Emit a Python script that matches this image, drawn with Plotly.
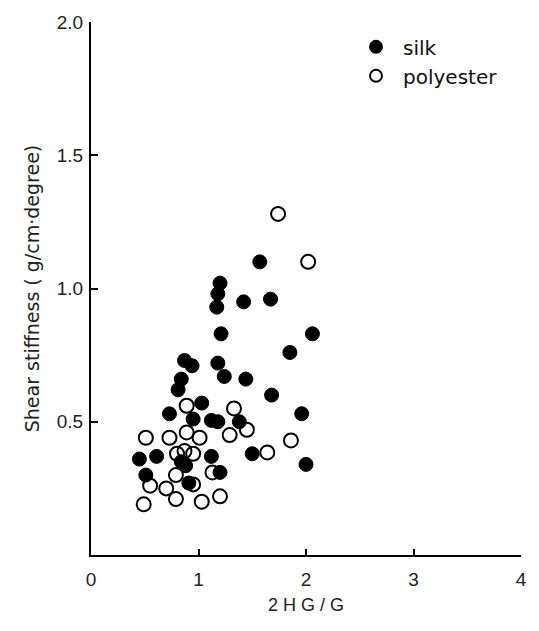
import plotly.graph_objects as go

silk_x = [1.57, 1.20, 1.18, 1.17, 1.42, 1.67, 1.21, 2.06, 1.85, 0.87, 0.94, 1.18, 1.24, 1.44,
          0.84, 0.81, 1.68, 1.03, 0.73, 0.95, 1.12, 1.18, 1.38, 1.96, 1.12, 1.50, 2.00, 0.84,
          0.88, 1.20, 0.91, 0.45, 0.61, 0.51]
silk_y = [1.10, 1.02, 0.98, 0.93, 0.95, 0.96, 0.83, 0.83, 0.76, 0.73, 0.71, 0.72, 0.67, 0.66,
          0.66, 0.62, 0.60, 0.57, 0.53, 0.51, 0.505, 0.50, 0.50, 0.53, 0.37, 0.38, 0.34, 0.35,
          0.335, 0.31, 0.27, 0.36, 0.37, 0.30]

poly_x = [1.74, 2.02, 0.89, 1.33, 0.73, 0.89, 1.01, 1.29, 1.45, 1.86, 0.80, 0.87, 0.95, 1.64,
          1.13, 0.79, 0.95, 0.70, 0.79, 1.03, 1.20, 0.51, 0.55, 0.49]
poly_y = [1.28, 1.10, 0.56, 0.55, 0.44, 0.46, 0.44, 0.45, 0.47, 0.43, 0.38, 0.39, 0.38, 0.385,
          0.31, 0.30, 0.265, 0.25, 0.21, 0.20, 0.22, 0.44, 0.26, 0.19]

x_ticks = [0, 1, 2, 3, 4]
x_tick_labels = ["0", "1", "2", "3", "4"]
y_ticks = [0.5, 1.0, 1.5, 2.0]
y_tick_labels = ["0.5", "1.0", "1.5", "2.0"]

font_family = "Liberation Sans, Arial, sans-serif"
wide_font = "DejaVu Sans, sans-serif"

fig = go.Figure()
fig.add_trace(go.Scatter(
    x=silk_x, y=silk_y, mode="markers", name="silk",
    marker=dict(symbol="circle", size=14, color="black", line=dict(color="black", width=1)),
))
fig.add_trace(go.Scatter(
    x=poly_x, y=poly_y, mode="markers", name="polyester",
    marker=dict(symbol="circle-open", size=14, color="black", line=dict(color="black", width=2)),
))

fig.update_layout(
    width=539, height=631,
    margin=dict(l=91, r=12, t=16, b=76),
    paper_bgcolor="white", plot_bgcolor="white",
    font=dict(family=font_family, size=18, color="#111"),
    showlegend=True,
    legend=dict(x=0.60, y=0.99, xanchor="left", yanchor="top",
                bgcolor="rgba(0,0,0,0)", font=dict(family=wide_font, size=20, color="#111"),
                itemsizing="constant", itemwidth=44, tracegroupgap=0),
    xaxis=dict(
        range=[0, 4], tickvals=x_ticks, ticktext=x_tick_labels,
        showgrid=False, zeroline=False, showline=True, linecolor="black", linewidth=2,
        ticks="inside", ticklen=6, tickcolor="black", tickwidth=2,
        tickfont=dict(size=19, color="#222"), ticklabelstandoff=6,
        title=dict(text="2 H G / G", font=dict(family=font_family, size=18, color="#222"), standoff=10),
    ),
    yaxis=dict(
        range=[0, 2.0], tickvals=y_ticks, ticktext=y_tick_labels,
        showgrid=False, zeroline=False, showline=True, linecolor="black", linewidth=2,
        ticks="inside", ticklen=7, tickcolor="black", tickwidth=2,
        tickfont=dict(size=19, color="#222"), ticklabelstandoff=2,
        title=dict(text="Shear stiffness ( g/cm·degree)", font=dict(family=wide_font, size=19, color="#222"), standoff=12),
    ),
)

fig.write_html("out.html")
